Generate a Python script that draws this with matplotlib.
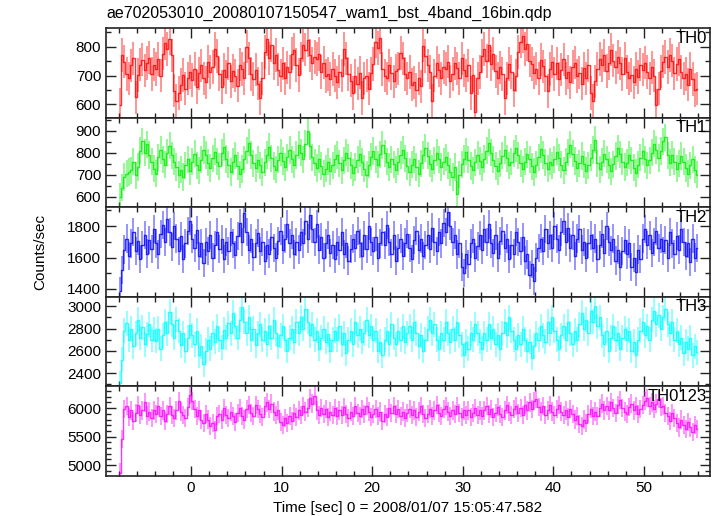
import numpy as np
import matplotlib
matplotlib.use('Agg')
import matplotlib.pyplot as plt
from matplotlib.ticker import MultipleLocator

# Light curve settings (0.25 s bins from -8 s to 56 s)
t_start = -8.0
bin_width = 0.25

title = 'ae702053010_20080107150547_wam1_bst_4band_16bin.qdp'
x_label = 'Time [sec] 0 = 2008/01/07 15:05:47.582'
y_label = 'Counts/sec'

band_names = ['TH0', 'TH1', 'TH2', 'TH3', 'TH0123']
band_colors = ['#ff0000', '#00ee00', '#0000ff', '#00ffff', '#ff00ff']
band_errors = [58, 62, 90, 112, 160]
band_ylims = [(554, 865), (552, 960), (1350, 1920), (2282, 3085), (4810, 6380)]
band_major = [100, 100, 200, 200, 500]
band_minor = [50, 50, 100, 100, 100]

th0 = [
    598, 772, 748, 705, 690, 735, 760, 624, 702, 738, 755, 718, 744, 762, 705, 738,
    722, 758, 700, 776, 812, 792, 828, 770, 648, 612, 640, 668, 702, 655, 690, 712,
    684, 722, 660, 708, 735, 690, 676, 748, 712, 730, 792, 768, 705, 660, 720, 695,
    742, 680, 716, 700, 665, 738, 722, 690, 800, 760, 705, 688, 720, 672, 622, 690,
    782, 826, 760, 805, 744, 772, 720, 700, 742, 690, 728, 712, 776, 790, 736, 702,
    760, 805, 790, 822, 770, 742, 765, 758, 775, 712, 745, 698, 705, 688, 722, 700,
    676, 714, 700, 792, 760, 705, 682, 640, 698, 672, 710, 622, 690, 700, 655, 708,
    740, 818, 796, 832, 722, 700, 690, 735, 708, 680, 716, 724, 778, 760, 705, 690,
    712, 668, 676, 650, 690, 662, 804, 768, 735, 712, 612, 700, 745, 718, 690, 730,
    722, 748, 680, 706, 742, 725, 690, 760, 718, 700, 735, 640, 702, 575, 690, 712,
    768, 792, 750, 805, 740, 776, 715, 690, 728, 705, 622, 690, 740, 712, 650, 700,
    782, 818, 836, 792, 808, 752, 740, 710, 724, 690, 755, 732, 700, 646, 722, 748,
    705, 742, 688, 720, 756, 690, 712, 676, 730, 745, 698, 710, 672, 725, 690, 735,
    640, 612, 680, 722, 758, 735, 770, 716, 744, 790, 752, 728, 765, 742, 705, 760,
    712, 690, 702, 676, 722, 695, 738, 720, 745, 712, 690, 728, 700, 596, 655, 715,
    748, 765, 730, 772, 752, 708, 740, 758, 712, 690, 705, 668, 722, 688, 650, 655,
]

th1 = [
    598, 640, 690, 705, 712, 720, 760, 698, 735, 810, 852, 800, 838, 790, 760, 728,
    705, 780, 812, 770, 745, 800, 832, 788, 760, 735, 700, 722, 690, 742, 770, 716,
    760, 795, 742, 720, 768, 812, 790, 755, 730, 775, 805, 760, 738, 800, 826, 772,
    745, 712, 760, 788, 740, 702, 726, 770, 810, 845, 790, 752, 730, 768, 742, 712,
    756, 790, 826, 775, 740, 722, 768, 800, 762, 735, 780, 812, 770, 745, 790, 835,
    800, 770, 842, 900, 830, 780, 755, 730, 772, 740, 705, 728, 760, 715, 742, 772,
    790, 752, 720, 765, 800, 776, 742, 710, 735, 768, 795, 758, 728, 700, 745, 782,
    808, 770, 745, 792, 835, 798, 760, 735, 770, 748, 722, 760, 790, 812, 775, 740,
    712, 745, 770, 735, 705, 752, 790, 822, 786, 750, 728, 765, 800, 770, 735, 760,
    780, 742, 712, 690, 735, 610, 700, 748, 772, 805, 768, 740, 720, 756, 790, 762,
    735, 772, 810, 846, 800, 768, 740, 715, 752, 786, 812, 775, 742, 760, 798, 820,
    788, 752, 725, 760, 792, 770, 738, 712, 745, 780, 815, 790, 755, 728, 760, 742,
    770, 805, 778, 745, 720, 760, 800, 836, 795, 762, 730, 752, 785, 748, 718, 742,
    778, 812, 860, 752, 725, 758, 795, 770, 742, 715, 748, 785, 820, 792, 760, 735,
    755, 790, 765, 732, 708, 745, 778, 806, 770, 742, 765, 800, 842, 812, 776, 808,
    852, 870, 788, 755, 790, 760, 728, 752, 785, 760, 730, 705, 742, 770, 722, 700,
]

th2 = [
    1385, 1520, 1650, 1720, 1610, 1690, 1760, 1640, 1705, 1590, 1680, 1745, 1625, 1710, 1655, 1780,
    1690, 1620, 1750, 1805, 1700, 1845, 1760, 1665, 1800, 1720, 1640, 1735, 1590, 1690, 1770, 1835,
    1720, 1660, 1775, 1610, 1690, 1565, 1700, 1640, 1745, 1600, 1680, 1760, 1655, 1715, 1590, 1700,
    1640, 1760, 1690, 1615, 1735, 1820, 1700, 1880, 1760, 1650, 1720, 1605, 1690, 1755, 1640, 1700,
    1580, 1680, 1625, 1730, 1660, 1600, 1705, 1770, 1650, 1720, 1815, 1690, 1745, 1620, 1700, 1650,
    1760, 1690, 1830, 1720, 1870, 1780, 1700, 1815, 1650, 1730, 1600, 1690, 1745, 1630, 1680, 1590,
    1700, 1645, 1760, 1620, 1690, 1580, 1655, 1720, 1660, 1770, 1690, 1610, 1740, 1655, 1800, 1700,
    1640, 1730, 1600, 1690, 1760, 1680, 1805, 1700, 1625, 1740, 1580, 1660, 1720, 1610, 1695, 1750,
    1660, 1590, 1710, 1770, 1650, 1720, 1610, 1680, 1745, 1655, 1790, 1700, 1640, 1760, 1690, 1820,
    1760, 1890, 1800, 1700, 1745, 1620, 1690, 1540, 1500, 1620, 1560, 1690, 1720, 1600, 1670, 1740,
    1650, 1780, 1700, 1810, 1690, 1630, 1740, 1600, 1705, 1770, 1660, 1720, 1590, 1680, 1625, 1760,
    1700, 1640, 1730, 1580, 1620, 1490, 1560, 1450, 1600, 1660, 1720, 1640, 1780, 1690, 1740, 1660,
    1800, 1720, 1650, 1760, 1830, 1700, 1790, 1660, 1740, 1610, 1720, 1780, 1650, 1700, 1600, 1690,
    1740, 1660, 1720, 1590, 1680, 1750, 1630, 1800, 1700, 1645, 1720, 1580, 1650, 1540, 1640, 1710,
    1620, 1690, 1540, 1600, 1510, 1650, 1590, 1720, 1780, 1680, 1740, 1630, 1700, 1770, 1660, 1720,
    1640, 1710, 1600, 1760, 1690, 1620, 1735, 1650, 1780, 1700, 1610, 1690, 1570, 1720, 1600, 1660,
]

th3 = [
    2310, 2520, 2780, 2850, 2700, 2800, 2640, 2760, 2880, 2720, 2810, 2660, 2750, 2840, 2700, 2790,
    2690, 2800, 2620, 2740, 2860, 2760, 2950, 2840, 2720, 2880, 2780, 2650, 2760, 2600, 2720, 2830,
    2740, 2660, 2780, 2560, 2640, 2480, 2600, 2700, 2620, 2760, 2680, 2820, 2700, 2630, 2790, 2720,
    2850, 2760, 2940, 2820, 2720, 2880, 2990, 2860, 2760, 2900, 2700, 2800, 2650, 2760, 2840, 2700,
    2780, 2660, 2820, 2720, 2880, 2760, 2640, 2740, 2820, 2700, 2600, 2720, 2800, 2680, 2860, 2760,
    2900, 2800, 2980, 2860, 2740, 2840, 2700, 2780, 2620, 2720, 2800, 2680, 2750, 2600, 2700, 2780,
    2700, 2820, 2660, 2760, 2580, 2700, 2780, 2660, 2860, 2740, 2800, 2680, 2760, 2880, 2740, 2820,
    2700, 2780, 2600, 2680, 2560, 2700, 2780, 2660, 2840, 2720, 2660, 2780, 2700, 2820, 2680, 2760,
    2820, 2700, 2860, 2760, 2640, 2740, 2600, 2700, 2800, 2880, 2760, 2840, 2700, 2620, 2760, 2700,
    2860, 2760, 2680, 2800, 2700, 2860, 2740, 2660, 2560, 2680, 2620, 2760, 2700, 2840, 2760, 2680,
    2620, 2760, 2700, 2840, 2720, 2800, 2660, 2740, 2620, 2760, 2860, 2740, 2900, 2780, 2700, 2620,
    2740, 2660, 2800, 2700, 2600, 2680, 2540, 2640, 2760, 2700, 2820, 2740, 2680, 2860, 2760, 2900,
    2780, 2700, 2620, 2740, 2820, 2700, 2860, 2760, 2660, 2780, 2700, 2840, 2940, 2800, 2880, 2760,
    2960, 2860, 3000, 2820, 2900, 2740, 2660, 2780, 2600, 2720, 2820, 2700, 2760, 2620, 2720, 2800,
    2700, 2780, 2600, 2680, 2560, 2700, 2780, 2860, 2740, 2820, 2700, 2880, 2960, 2840, 2920, 2800,
    2900, 2980, 2840, 2760, 2860, 2700, 2780, 2660, 2720, 2580, 2680, 2620, 2720, 2560, 2640, 2590,
]

th0123 = [
    4870, 5460, 5990, 6040, 5850, 5960, 5780, 5920, 6060, 5880, 5960, 6100, 5870, 5940, 5820, 5960,
    5900, 6040, 5860, 5960, 5780, 5900, 6040, 5880, 5820, 5960, 6120, 5940, 5880, 5820, 6020, 6230,
    6120, 5980, 5860, 5960, 5800, 5740, 5900, 5800, 5680, 5740, 5620, 5860, 5900, 5800, 6000, 5880,
    5820, 5940, 5860, 5760, 5920, 6000, 5860, 5800, 5980, 6060, 5920, 5860, 6060, 5980, 5900, 5840,
    6040, 6100, 5980, 6080, 5940, 5880, 5960, 5760, 5700, 5820, 5740, 5860, 5780, 5920, 5840, 5960,
    5880, 6040, 5940, 6000, 6180, 6080, 6220, 5960, 5880, 6000, 5900, 5980, 5840, 5940, 5880, 6000,
    5860, 5960, 5880, 6020, 5900, 5820, 5940, 5860, 6040, 5920, 5860, 5980, 5900, 6040, 5940, 5840,
    5900, 5980, 5860, 5940, 5780, 5900, 5840, 6000, 5920, 6040, 5900, 5980, 5860, 5940, 5820, 5920,
    5980, 5880, 5960, 5840, 5940, 6040, 5900, 5820, 5900, 5980, 5860, 5960, 6060, 5920, 5860, 5980,
    6040, 5940, 5860, 5960, 5900, 6040, 5920, 5840, 5960, 5880, 5960, 5840, 5920, 6000, 5880, 5960,
    5860, 5960, 6040, 5900, 5980, 5840, 5920, 6020, 5900, 5840, 5960, 6060, 5940, 5880, 5980, 6040,
    5920, 6000, 5880, 6060, 5960, 6100, 5980, 6120, 6160, 6020, 5940, 6040, 5880, 5960, 6060, 5940,
    5880, 5980, 6060, 5940, 5880, 5960, 5840, 5980, 5900, 5800, 5860, 5720, 5680, 5800, 5740, 5900,
    5980, 5860, 5940, 5860, 6000, 6080, 5960, 6040, 5960, 6100, 6000, 5920, 6060, 6140, 6000, 5940,
    5900, 6020, 6080, 5960, 6040, 5900, 5980, 6060, 6120, 6180, 6040, 6100, 5980, 6080, 6160, 6020,
    6040, 5920, 5860, 5780, 5920, 5820, 5740, 5660, 5800, 5700, 5640, 5760, 5660, 5580, 5700, 5640,
]

bands = [th0, th1, th2, th3, th0123]


def bin_centers(n):
    """Centre of each time bin"""
    return t_start + bin_width * (np.arange(n) + 0.5)


def draw_panel(ax, rates, err, color, name, ylim, major, minor):
    """One light curve with error bars"""
    t = bin_centers(len(rates))
    # vertical error bars, lighter
    ax.errorbar(t, rates, yerr=err, fmt='none', ecolor=color,
                elinewidth=1.3, alpha=0.45, capsize=0)
    # step line through the bins
    ax.step(t, rates, where='mid', color=color, lw=1.0, alpha=0.8)
    ax.set_ylim(*ylim)
    ax.yaxis.set_major_locator(MultipleLocator(major))
    ax.yaxis.set_minor_locator(MultipleLocator(minor))
    ax.text(0.995, 0.97, name, transform=ax.transAxes, ha='right', va='top',
            fontsize=12)


def main():
    plt.rcParams['font.family'] = ['Liberation Sans', 'DejaVu Sans']
    fig, axes = plt.subplots(5, 1, sharex=True, figsize=(7.17, 5.16), dpi=100)
    fig.subplots_adjust(left=106 / 717, right=710 / 717,
                        top=1 - 28 / 516, bottom=1 - 476 / 516, hspace=0)

    for i, ax in enumerate(axes):
        draw_panel(ax, bands[i], band_errors[i], band_colors[i], band_names[i],
                   band_ylims[i], band_major[i], band_minor[i])
        ax.set_xlim(-9.4, 57.3)
        ax.xaxis.set_major_locator(MultipleLocator(10))
        ax.xaxis.set_minor_locator(MultipleLocator(2))
        ax.tick_params(which='both', direction='in', top=True, right=True,
                       labelsize=11, width=1, color='#222222')
        ax.tick_params(which='major', length=7)
        ax.tick_params(which='minor', length=3.5)
        for s in ax.spines.values():
            s.set_linewidth(1.2)
            s.set_color('#222222')

    fig.text(106 / 717, 1 - 18 / 516, title, fontsize=11.5, ha='left', va='baseline')
    fig.text(40 / 717, 1 - 252 / 516, y_label, fontsize=11, rotation=90,
             ha='center', va='center')
    fig.text(408 / 717, 1 - 512 / 516, x_label, fontsize=11, ha='center',
             va='baseline')

    fig.savefig('out.png', dpi=100)


if __name__ == "__main__":
    main()
